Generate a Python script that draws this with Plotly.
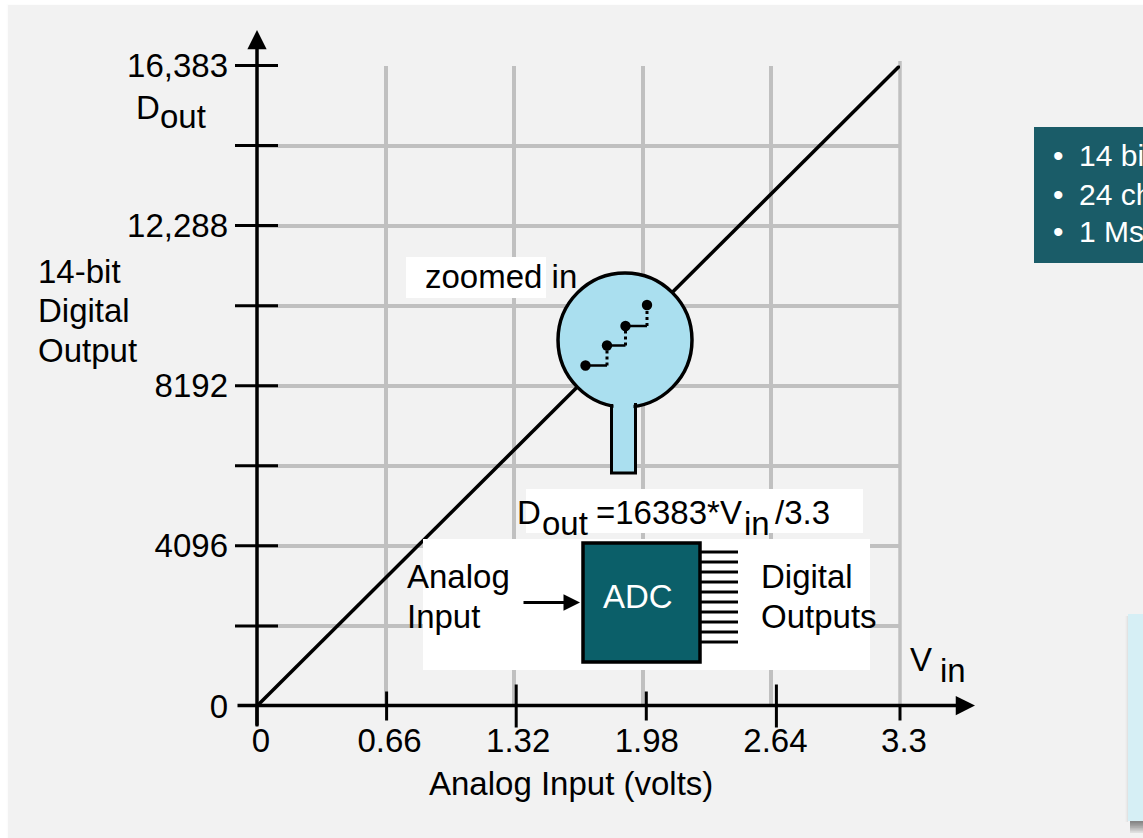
import plotly.graph_objects as go

# ---- data ----
line_vin = [0, 3.3]
line_dout = [0, 16383]
x_tick_vals = [0, 0.66, 1.32, 1.98, 2.64, 3.3]
x_tick_text = ["0", "0.66", "1.32", "1.98", "2.64", "3.3"]
y_tick_vals = [0, 2048, 4096, 6144, 8192, 10240, 12288, 14336, 16383]
y_tick_text = ["0", "", "4096", "", "8192", "", "12,288", "", "16,383"]
bullets = ["14 bits", "24 channels", "1 Msps"]
y_label_lines = ["14-bit", "Digital", "Output"]

# ---- page geometry ----
W, H = 1143, 838
X0, X1 = 257, 900     # pixel position of 0 V and 3.3 V
Y0, Y1 = 706, 65.5    # pixel position of code 0 and code 16383
FONT = "Liberation Sans, Arial, sans-serif"
FS = 33
INK = "#000000"
GRID = "#c0c0c0"
PANEL = "#f2f2f2"
TEAL = "#0b5f69"
TEAL2 = "#1a5c68"
BLUE = "#aadfef"
PALE = "#d6eff5"


def px(x):
    return x / W


def py(y):
    return 1 - y / H


def sx(v):
    return X0 + v * (X1 - X0) / 3.3


def sy(v):
    return Y0 - v * (Y0 - Y1) / 16383


shapes = []


def rect(x0, y0, x1, y1, fill, line=None, lw=0, layer="above"):
    shapes.append(dict(type="rect", xref="paper", yref="paper",
                       x0=px(x0), x1=px(x1), y0=py(y1), y1=py(y0),
                       fillcolor=fill, layer=layer,
                       line=dict(color=line or fill, width=lw)))


def seg(x0, y0, x1, y1, lw=3, dash="solid", color=INK, layer="above"):
    shapes.append(dict(type="line", xref="paper", yref="paper",
                       x0=px(x0), x1=px(x1), y0=py(y0), y1=py(y1),
                       layer=layer, line=dict(color=color, width=lw, dash=dash)))


def disc(cx, cy, r, fill, line=INK, lw=0):
    shapes.append(dict(type="circle", xref="paper", yref="paper",
                       x0=px(cx - r), x1=px(cx + r), y0=py(cy + r), y1=py(cy - r),
                       fillcolor=fill, layer="above",
                       line=dict(color=line, width=lw)))


# panel background and its soft edge
for i, a in enumerate([0.004, 0.008]):
    rect(6 + i, 4 + i * 0.5, W, H, f"rgba(0,0,0,{a})", layer="below")
rect(8, 5, W, H, PANEL, layer="below")

# right-most grid line (the axis drops the one at its end)
seg(sx(3.3), 61, sx(3.3), sy(0), 3.5, color=GRID, layer="below")

# white boxes
rect(406, 257, 546, 298, "#ffffff")
rect(526, 489, 863, 533, "#ffffff")
rect(423, 539, 870, 670, "#ffffff")

# magnifier
rect(611.5, 395, 635.5, 473, BLUE, INK, 3)
disc(625, 340, 67, BLUE, INK, 3.5)
rect(613.5, 395, 633.5, 412, BLUE)
seg(611.5, 404, 611.5, 412, 3)
seg(635.5, 403, 635.5, 412, 3)

# staircase inside the magnifier
stair_x = [585.5, 607, 625.5, 647]
stair_y = [365.5, 345.5, 326, 305]
for i in range(3):
    seg(stair_x[i], stair_y[i], stair_x[i + 1], stair_y[i], 2.5)
    seg(stair_x[i + 1], stair_y[i], stair_x[i + 1], stair_y[i + 1], 3, "dot")
for cx, cy in zip(stair_x, stair_y):
    disc(cx, cy, 5.2, INK)

# ADC chip and pins
for k in range(10):
    seg(701, 552 + 10 * k, 738, 552 + 10 * k, 3)
rect(583, 543, 700, 662, TEAL, INK, 3.5)

# right-hand boxes
rect(1034, 127, W, 263, TEAL2)
for i in range(7):
    rect(1130, 821, W, 833 - i * 1.7, "rgba(0,0,0,0.08)")
for i, a in enumerate([0.012, 0.02, 0.03]):
    rect(1125 + i, 616, 1128, 822, f"rgba(0,0,0,{a})")
rect(1128, 614, W, 821, PALE)

# ---- hand-drawn tick marks, crossing the axes ----
x_tick_nudge = [0, 1, 2, 3.5, 5, 0]      # px, the ticks sit slightly right of the grid
x_tick_up = [0, 14, 21, 14, 21, 1]
x_tick_dn = [21, 15, 22, 15, 22, 15]
for v, n, u, d in zip(x_tick_vals, x_tick_nudge, x_tick_up, x_tick_dn):
    seg(sx(v) + n, 705.5 - u, sx(v) + n, 705.5 + d, 3)
for v in y_tick_vals[1:]:
    seg(235, sy(v), 278, sy(v), 3)

ann = []


def text(s, x, y, size=FS, color=INK, anchor="left"):
    ann.append(dict(text=s, xref="paper", yref="paper",
                    x=px(x - 1.5 if anchor == "left" else x), y=py(y - 1),
                    xanchor=anchor, yanchor="middle", showarrow=False,
                    borderpad=0, font=dict(family=FONT, size=size, color=color)))


def arrow(xt, yt, xh, yh, lw=3.5):
    ann.append(dict(text="", xref="paper", yref="paper", x=px(xh), y=py(yh),
                    ax=xt - xh, ay=yt - yh, axref="pixel", ayref="pixel",
                    showarrow=True, arrowhead=2, arrowsize=1.1, arrowwidth=lw,
                    arrowcolor=INK, standoff=0, startstandoff=0))


# axes with arrow tips, and the small input arrow
arrow(236, 705.5, 975, 705.5)
arrow(257, 727, 257, 30)
arrow(522, 602.5, 580, 602.5, 3)

# free text
text("Analog Input (volts)", 570.5, 784, anchor="center")
for s, y in zip(y_label_lines, [272, 311, 351]):
    text(s, 38, y)
text("D", 136, 108)
text("out", 160, 118)
text("V", 910, 660)
text("in", 940, 671)
text("zoomed in", 425, 278)
text("D", 517, 513)
text("out", 542, 524)
text("=16383*V", 596, 513)
text("in", 744, 524)
text("/3.3", 775, 513)
text("ADC", 638, 597, color="#ffffff", anchor="center")
text("Analog", 407, 577)
text("Input", 407, 617)
text("Digital", 761, 577)
text("Outputs", 761, 617)
for s, y in zip(bullets, [157, 195, 233]):
    text("•", 1053, y, 30, "#ffffff")
    text(s, 1079, y, 30, "#ffffff")

fig = go.Figure()
fig.add_trace(go.Scatter(x=line_vin, y=line_dout, mode="lines", cliponaxis=False,
                         line=dict(color=INK, width=3.5), hoverinfo="skip"))

fig.update_layout(
    width=W, height=H, autosize=False, showlegend=False,
    margin=dict(l=0, r=0, t=0, b=0, pad=0),
    paper_bgcolor="#ffffff", plot_bgcolor="rgba(0,0,0,0)",
    font=dict(family=FONT, size=FS, color=INK),
    shapes=shapes, annotations=ann,
    xaxis=dict(domain=[px(X0), px(X1)], range=[0, 3.3], tickmode="array",
               tickvals=x_tick_vals, ticktext=x_tick_text, showgrid=True,
               gridcolor=GRID, gridwidth=3.5, zeroline=False, showline=False,
               ticks="", ticklabelstandoff=12, ticklabelshift=4,
               tickfont=dict(family=FONT, size=FS, color=INK), automargin=False),
    yaxis=dict(domain=[py(Y0), py(Y1)], range=[0, 16383], tickmode="array",
               tickvals=y_tick_vals, ticktext=y_tick_text, showgrid=True,
               gridcolor=GRID, gridwidth=3.5, zeroline=False, showline=False,
               ticks="", ticklabelstandoff=28,
               tickfont=dict(family=FONT, size=FS, color=INK), automargin=False),
)

fig.write_html(
    "out.html",
    config={"displayModeBar": False},
    post_script="document.body.style.margin='0';document.documentElement.style.overflow='hidden';",
)
